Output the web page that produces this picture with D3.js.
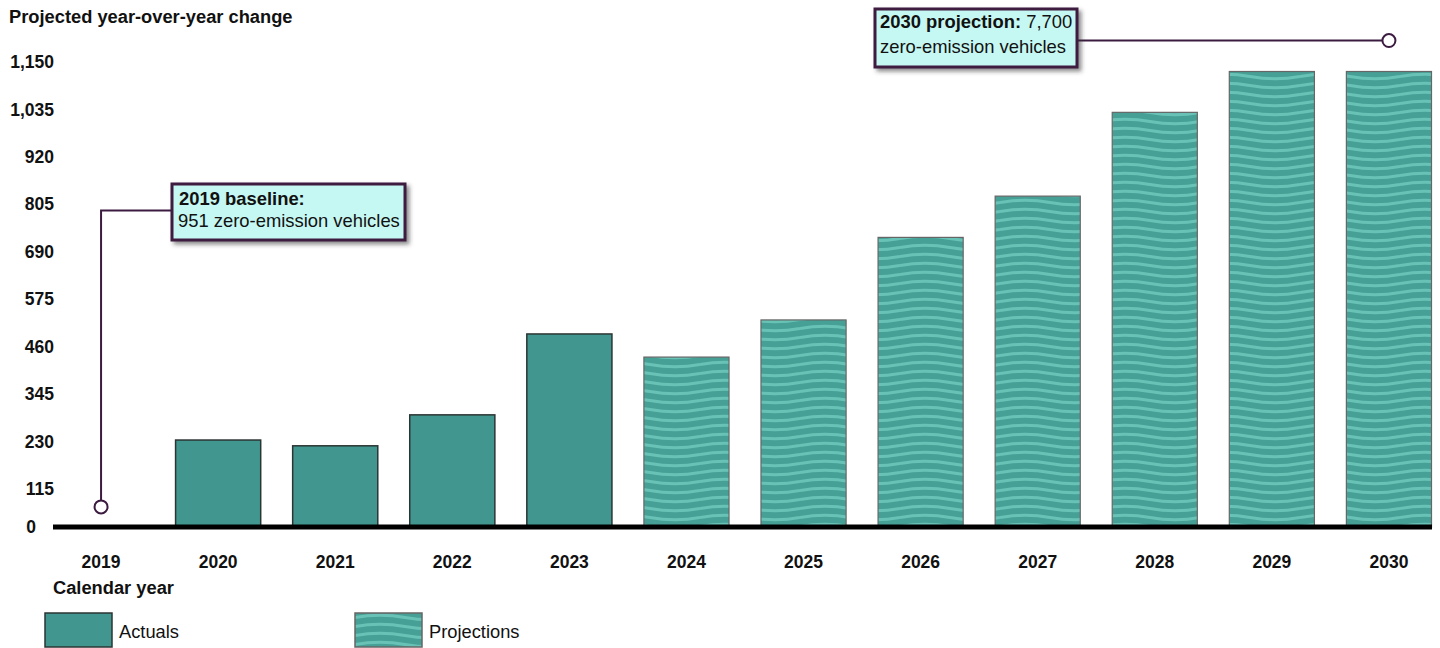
<!DOCTYPE html>
<html>
<head>
<meta charset="utf-8">
<script src="https://cdn.jsdelivr.net/npm/d3@7"></script>
<style>
  html, body { margin: 0; padding: 0; background: #fff; }
  svg { display: block; font-family: "Liberation Sans", Arial, sans-serif; }
</style>
</head>
<body>
<svg id="chart" width="1440" height="648"></svg>
<script>
// ---- data ----
const years = ["2019","2020","2021","2022","2023","2024","2025","2026","2027","2028","2029","2030"];
const changes = [null, 234, 220, 295, 491, 435, 525, 725, 825, 1028, 1127, 1127];
const kinds = ["baseline","actual","actual","actual","actual","projection","projection","projection","projection","projection","projection","projection"];
const yTickValues = [0, 115, 230, 345, 460, 575, 690, 805, 920, 1035, 1150];
const yAxisTitle = "Projected year-over-year change";
const xAxisTitle = "Calendar year";
const legendItems = [{kind: "actual", label: "Actuals"}, {kind: "projection", label: "Projections"}];
const baselineAnnotation = {year: "2019", anchor: 72, elbow: 790, bold: "2019 baseline:", rest: "", line2: "951 zero-emission vehicles"};
const projectionAnnotation = {year: "2030", level: 1202, bold: "2030 projection:", rest: " 7,700", line2: "zero-emission vehicles"};

// ---- layout ----
const W = 1440, H = 648;
const baseY = 527;           // x-axis line position
const svg = d3.select("#chart");

const x = d3.scaleBand().domain(years).range([58.5, 1431.5]).paddingInner(0.273).paddingOuter(0);
const y = d3.scaleLinear().domain([0, 1150]).range([536.6, 62]);

const cActual = "#41978f";
const cProjBase = "#46a096";
const cProjWave = "#68c3b6";
const cPurple = "#3c1b40";
const cBox = "#c6f8f3";

const defs = svg.append("defs");
const pat = defs.append("pattern")
  .attr("id", "wave").attr("patternUnits", "userSpaceOnUse")
  .attr("width", 100).attr("height", 9);
pat.append("rect").attr("width", 100).attr("height", 9).attr("fill", cProjBase);
pat.append("path")
  .attr("d", "M0,4.5 Q25,0 50,4.5 T100,4.5")
  .attr("fill", "none").attr("stroke", cProjWave).attr("stroke-width", 3);

const filt = defs.append("filter").attr("id", "shadow")
  .attr("x", "-10%").attr("y", "-20%").attr("width", "130%").attr("height", "160%");
filt.append("feDropShadow").attr("dx", 3).attr("dy", 3).attr("stdDeviation", 2)
  .attr("flood-color", "#333").attr("flood-opacity", 0.55);

// ---- y axis title ----
svg.append("text").attr("x", 9).attr("y", 23)
  .attr("font-size", 18.3).attr("font-weight", "bold").attr("fill", "#111")
  .text(yAxisTitle);

// ---- y axis tick labels ----
const yAxisG = svg.append("g").attr("transform", "translate(57,0)")
  .call(d3.axisLeft(y).tickValues(yTickValues.filter(v => v > 0))
    .tickFormat(d3.format(",")).tickSize(0).tickPadding(3));
yAxisG.select(".domain").remove();
yAxisG.selectAll("text").attr("font-size", 17.5).attr("font-weight", "bold")
  .attr("fill", "#111").attr("font-family", "Liberation Sans, Arial, sans-serif");
// zero label sits on the baseline
svg.append("text").attr("x", 36).attr("y", baseY).attr("dy", "0.35em")
  .attr("text-anchor", "end").attr("font-size", 17.5).attr("font-weight", "bold").attr("fill", "#111")
  .text(d3.format(",")(yTickValues[0]));

// ---- bars ----
const barData = years.map((yr, i) => ({year: yr, value: changes[i], kind: kinds[i]})).filter(d => d.value != null);
svg.append("g").selectAll("rect").data(barData).join("rect")
  .attr("x", d => x(d.year))
  .attr("y", d => y(d.value))
  .attr("width", x.bandwidth())
  .attr("height", d => baseY - y(d.value))
  .attr("fill", d => d.kind === "actual" ? cActual : "url(#wave)")
  .attr("stroke", d => d.kind === "actual" ? "#2b3533" : "#666")
  .attr("stroke-width", d => d.kind === "actual" ? 1.5 : 1.2);

// ---- x axis line ----
svg.append("line").attr("x1", 53).attr("x2", 1432).attr("y1", baseY).attr("y2", baseY)
  .attr("stroke", "#000").attr("stroke-width", 5);

// ---- x tick labels ----
const xAxisG = svg.append("g").attr("transform", `translate(0,${baseY})`)
  .call(d3.axisBottom(x).tickSize(0).tickPadding(29));
xAxisG.select(".domain").remove();
xAxisG.selectAll("text").attr("font-size", 17.5).attr("font-weight", "bold")
  .attr("fill", "#111").attr("font-family", "Liberation Sans, Arial, sans-serif");

svg.append("text").attr("x", 53).attr("y", 593.5)
  .attr("font-size", 18.3).attr("font-weight", "bold").attr("fill", "#111")
  .text(xAxisTitle);

// ---- legend ----
const legendX = [45, 355];
const lg = svg.append("g").selectAll("g").data(legendItems).join("g")
  .attr("transform", (d, i) => `translate(${legendX[i]},613)`);
lg.append("rect").attr("width", 67).attr("height", 34)
  .attr("fill", d => d.kind === "actual" ? cActual : "url(#wave)")
  .attr("stroke", d => d.kind === "actual" ? "#2b3533" : "#666")
  .attr("stroke-width", 1.5);
lg.append("text").attr("x", 74).attr("y", 24.5).attr("font-size", 18.3).attr("fill", "#111")
  .text(d => d.label);

// ---- annotation: 2019 baseline ----
const bx = x(baselineAnnotation.year) + x.bandwidth() / 2;
const box1 = {x: 172, y: 184, w: 233, h: 56};
svg.append("path")
  .attr("d", `M${bx},${y(baselineAnnotation.anchor)} V${y(baselineAnnotation.elbow)} H${box1.x}`)
  .attr("fill", "none").attr("stroke", cPurple).attr("stroke-width", 2);
svg.append("circle").attr("cx", bx).attr("cy", y(baselineAnnotation.anchor)).attr("r", 6.5)
  .attr("fill", "#fff").attr("stroke", cPurple).attr("stroke-width", 2);
svg.append("rect").attr("x", box1.x).attr("y", box1.y).attr("width", box1.w).attr("height", box1.h)
  .attr("fill", cBox).attr("stroke", cPurple).attr("stroke-width", 3).attr("filter", "url(#shadow)");
const t1 = svg.append("text").attr("x", box1.x + 7).attr("y", box1.y + 20.5).attr("font-size", 18.4).attr("fill", "#111");
t1.append("tspan").attr("font-weight", "bold").text(baselineAnnotation.bold);
svg.append("text").attr("x", box1.x + 6).attr("y", box1.y + 42.5).attr("font-size", 18.4).attr("fill", "#111")
  .text(baselineAnnotation.line2);

// ---- annotation: 2030 projection ----
const px = x(projectionAnnotation.year) + x.bandwidth() / 2;
const box2 = {x: 875, y: 9, w: 202, h: 58};
svg.append("line").attr("x1", box2.x + box2.w).attr("x2", px)
  .attr("y1", y(projectionAnnotation.level)).attr("y2", y(projectionAnnotation.level))
  .attr("stroke", cPurple).attr("stroke-width", 2);
svg.append("circle").attr("cx", px).attr("cy", y(projectionAnnotation.level)).attr("r", 6.5)
  .attr("fill", "#fff").attr("stroke", cPurple).attr("stroke-width", 2);
svg.append("rect").attr("x", box2.x).attr("y", box2.y).attr("width", box2.w).attr("height", box2.h)
  .attr("fill", cBox).attr("stroke", cPurple).attr("stroke-width", 3).attr("filter", "url(#shadow)");
const t2 = svg.append("text").attr("x", box2.x + 5).attr("y", box2.y + 19).attr("font-size", 18.4).attr("fill", "#111");
t2.append("tspan").attr("font-weight", "bold").text(projectionAnnotation.bold);
t2.append("tspan").text(projectionAnnotation.rest);
svg.append("text").attr("x", box2.x + 5).attr("y", box2.y + 44).attr("font-size", 18.4).attr("fill", "#111")
  .text(projectionAnnotation.line2);
</script>
</body>
</html>
